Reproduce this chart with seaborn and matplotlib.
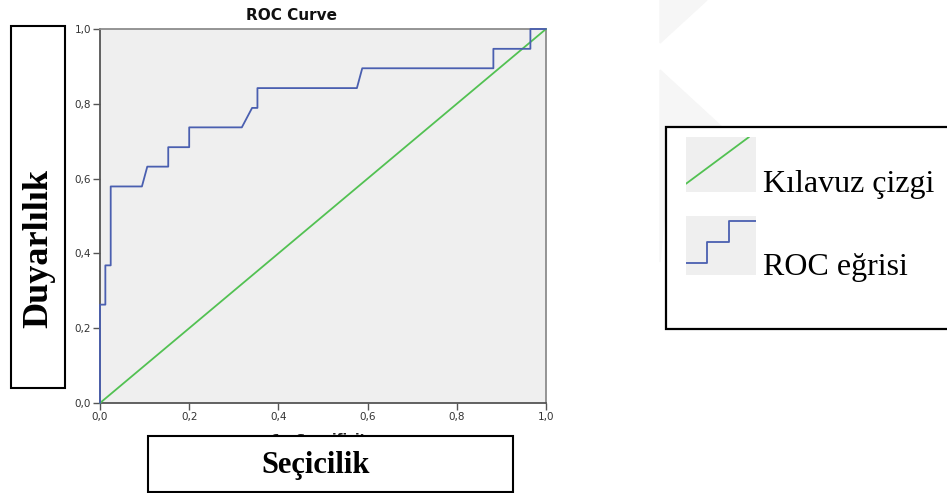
import matplotlib
matplotlib.use("Agg")
import matplotlib.pyplot as plt
import seaborn as sns
import pandas as pd
from matplotlib.patches import Rectangle, Polygon

# ---- data ----
roc_fpr = [0.0, 0.0, 0.012, 0.012, 0.024, 0.024, 0.094, 0.106, 0.153, 0.153, 0.2, 0.2,
           0.318, 0.341, 0.353, 0.353, 0.576, 0.588, 0.882, 0.882, 0.965, 0.965, 1.0]
roc_tpr = [0.0, 0.263, 0.263, 0.368, 0.368, 0.579, 0.579, 0.632, 0.632, 0.684, 0.684, 0.737,
           0.737, 0.789, 0.789, 0.842, 0.842, 0.895, 0.895, 0.947, 0.947, 1.0, 1.0]
ref_x = [0.0, 1.0]
ref_y = [0.0, 1.0]
tick_values = [0.0, 0.2, 0.4, 0.6, 0.8, 1.0]
tick_labels = ["0,0", "0,2", "0,4", "0,6", "0,8", "1,0"]
title_text = "ROC Curve"
spss_xlabel = "1 - Specificity"
ylabel_text = "Duyarlılık"
xlabel_text = "Seçicilik"
legend_labels = ["Kılavuz çizgi", "ROC eğrisi"]

BLUE = "#4a5fb0"
GREEN = "#52c152"
BG = "#efefef"

sns.set_theme(style="white")
plt.rcParams["font.family"] = ["DejaVu Sans"]

W, H = 947, 493
fig = plt.figure(figsize=(W / 100, H / 100), dpi=100)


def fx(x):
    return x / W


def fy(y):
    return 1 - y / H


# watermark shapes (very faint)
wm = "#f6f6f6"
fig.patches.append(Polygon([(fx(660), fy(0)), (fx(707), fy(0)), (fx(660), fy(43))],
                           closed=True, transform=fig.transFigure, color=wm, zorder=0))
fig.patches.append(Polygon([(fx(660), fy(70)), (fx(722), fy(127)), (fx(666), fy(127)),
                            (fx(666), fy(200)), (fx(660), fy(262))],
                           closed=True, transform=fig.transFigure, color=wm, zorder=0))

ax = fig.add_axes([fx(100), fy(403), 446 / W, 374 / H])
ax.set_facecolor(BG)

df_roc = pd.DataFrame({"fpr": roc_fpr, "tpr": roc_tpr})
df_ref = pd.DataFrame({"fpr": ref_x, "tpr": ref_y})
sns.lineplot(data=df_ref, x="fpr", y="tpr", ax=ax, color=GREEN, lw=1.3,
             sort=False, estimator=None, clip_on=False, zorder=3)
sns.lineplot(data=df_roc, x="fpr", y="tpr", ax=ax, color=BLUE, lw=1.3,
             sort=False, estimator=None, clip_on=False, zorder=4)

ax.set_xlim(0, 1)
ax.set_ylim(0, 1)
ax.set_xticks(tick_values)
ax.set_xticklabels(tick_labels)
ax.set_yticks(tick_values)
ax.set_yticklabels(tick_labels)
ax.tick_params(axis="both", direction="out", length=5, width=1.0, color="#555555",
               labelsize=7.5, labelcolor="#333333", pad=1.5, bottom=True, left=True)
ax.set_xlabel("")
ax.set_ylabel("")
for s in ["left", "bottom"]:
    ax.spines[s].set_color("#555555")
    ax.spines[s].set_linewidth(1.3)
for s in ["top", "right"]:
    ax.spines[s].set_color("#8c8c8c")
    ax.spines[s].set_linewidth(1.3)

# title
fig.text(fx(291), fy(16), title_text, ha="center", va="center", fontsize=11,
         fontweight="bold", color="#111111")

# original partially hidden x label
fig.text(fx(323), fy(433), spss_xlabel, ha="center", va="top", fontsize=9.5,
         fontweight="bold", color="#222222", zorder=1)

serif = ["Liberation Serif", "DejaVu Serif"]

# y label box
fig.patches.append(Rectangle((fx(11), fy(388)), 54 / W, 362 / H, transform=fig.transFigure,
                             facecolor="white", edgecolor="black", lw=1.5, zorder=5))
fig.text(fx(39), fy(249), ylabel_text, rotation=90, ha="center", va="center",
         fontsize=26, fontweight="bold", family=serif, color="black", zorder=6)

# x label box
fig.patches.append(Rectangle((fx(148), fy(492)), 365 / W, 56 / H, transform=fig.transFigure,
                             facecolor="white", edgecolor="black", lw=1.5, zorder=5))
fig.text(fx(316), fy(466), xlabel_text, ha="center", va="center",
         fontsize=22, fontweight="bold", family=serif, color="black", zorder=6)

# custom legend
fig.patches.append(Rectangle((fx(666), fy(329)), 290 / W, 202 / H, transform=fig.transFigure,
                             facecolor="white", edgecolor="black", lw=1.6, zorder=5))

ic1 = fig.add_axes([fx(686), fy(192), 70 / W, 55 / H], zorder=6)
ic1.set_facecolor(BG)
ic1.plot([0, 0.9], [0.15, 1.0], color=GREEN, lw=1.3)
ic1.set_xlim(0, 1)
ic1.set_ylim(0, 1)
ic1.axis("off")
ic1.add_patch(Rectangle((0, 0), 1, 1, facecolor=BG, edgecolor="none", zorder=0))

ic2 = fig.add_axes([fx(686), fy(275), 70 / W, 59 / H], zorder=6)
ic2.plot([0, 0.3, 0.3, 0.61, 0.61, 1.0], [0.2, 0.2, 0.56, 0.56, 0.92, 0.92],
         color=BLUE, lw=1.3)
ic2.set_xlim(0, 1)
ic2.set_ylim(0, 1)
ic2.axis("off")
ic2.add_patch(Rectangle((0, 0), 1, 1, facecolor=BG, edgecolor="none", zorder=0))

fig.text(fx(763), fy(192), legend_labels[0], ha="left", va="baseline", fontsize=23,
         family=serif, color="black", zorder=7)
fig.text(fx(763), fy(275), legend_labels[1], ha="left", va="baseline", fontsize=23,
         family=serif, color="black", zorder=7)

fig.savefig("out.png", dpi=100, facecolor="white")
